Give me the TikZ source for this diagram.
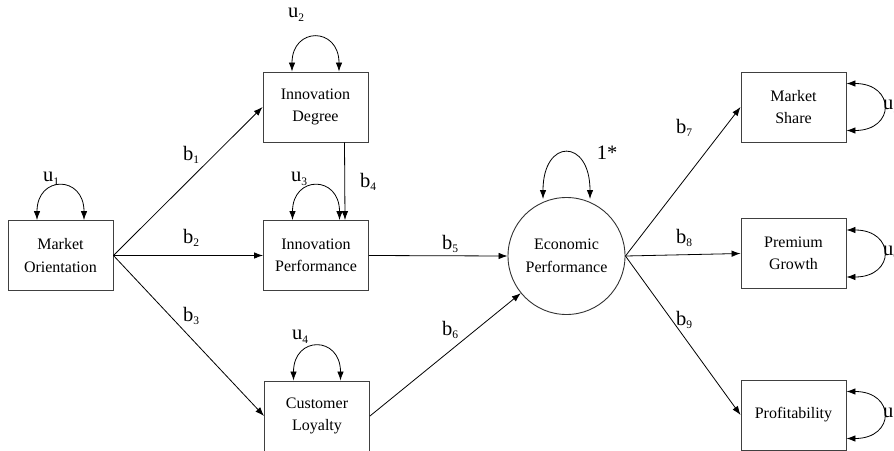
\documentclass[tikz,border=0pt]{standalone}
\usepackage{fontspec}
\setmainfont{Liberation Serif}
\usetikzlibrary{calc,arrows.meta}
\newcommand\lbl[2]{#1\raisebox{-0.4ex}{\fontsize{11.5}{11.5}\selectfont #2}}
\begin{document}
\begin{tikzpicture}[x=1pt,y=-1pt,
  box/.style={draw=black!75,line width=0.9pt,minimum width=105pt,minimum height=70pt,inner sep=0pt,align=center,font=\fontsize{16}{22.5}\selectfont},
  circ/.style={draw=black!80,line width=0.9pt,circle,minimum size=117pt,inner sep=0pt,align=center,font=\fontsize{16}{22.5}\selectfont},
  conn/.style={line width=0.8pt,-{Latex[length=9pt,width=6.5pt]}},
  loopc/.style={line width=0.8pt,{Latex[length=9pt,width=6.5pt]}-{Latex[length=9pt,width=6.5pt]}},
  lab/.style={font=\fontsize{20.5}{20.5}\selectfont,inner sep=0pt}]
\useasboundingbox (0,0) rectangle (894,450);
\clip (0,0) rectangle (894,450);
% nodes
\node[box] (mo) at (60.5,255.5) {Market\\Orientation};
\node[box] (id) at (315.5,107) {Innovation\\Degree};
\node[box] (ip) at (316,255.5) {Innovation\\Performance};
\node[box] (cl) at (317,416) {Customer\\Loyalty};
\node[circ] (ep) at (566.5,256) {Economic\\Performance};
\node[box] (ms) at (793.5,107) {Market\\Share};
\node[box] (pg) at (793.5,253.5) {Premium\\Growth};
\node[box] (pr) at (793.5,415) {Profitability};
% paths
\draw[conn] (mo.east) -- (id.west);
\draw[conn] (mo.east) -- (ip.west);
\draw[conn] (mo.east) -- (cl.west);
\coordinate (b4s) at ($(id.south)+(29,0)$);
\coordinate (b4e) at ($(ip.north)+(29,0)$);
\draw[conn] (b4s) -- (b4e);
\draw[conn] (ip.east) -- (ep.west);
\draw[conn] (cl.east) -- (ep);
\draw[conn] (ep.east) -- (ms.west);
\draw[conn] (ep.east) -- (pg.west);
\draw[conn] (ep.east) -- (pr.west);
% loops on top
\foreach \n in {mo,id,ip,cl}{
  \draw[loopc] ($(\n.north)+(-23.5,0)$) .. controls +(0,-45) and +(0,-45) .. ($(\n.north)+(23.5,0)$);
}
\coordinate (epl) at ($(ep.center)+(-23.5,-57)$);
\coordinate (epr) at ($(ep.center)+(23.5,-57)$);
\draw[loopc] (epl) .. controls +(0,-61) and +(0,-61) .. (epr);
\foreach \n in {ms,pg,pr}{
  \draw[loopc] ($(\n.east)+(0,-23.5)$) .. controls +(49,0) and +(49,0) .. ($(\n.east)+(0,23.5)$);
}
% labels
\node[lab] (u1) at (51,179) {\lbl{u}{1}};
\node[lab] (u2) at (296,15) {\lbl{u}{2}};
\node[lab] (u3) at (299,179) {\lbl{u}{3}};
\node[lab] (u4) at (300,337) {\lbl{u}{4}};
\node[lab] (one) at (607,153) {1*};
\node[lab,anchor=west] (u5) at (883,107) {\lbl{u}{5}};
\node[lab,anchor=west] (u6) at (883,253) {\lbl{u}{6}};
\node[lab,anchor=west] (u7) at (883,415) {\lbl{u}{7}};
\node[lab] (b1) at (191,155) {\lbl{b}{1}};
\node[lab] (b2) at (191,238) {\lbl{b}{2}};
\node[lab] (b3) at (191,316) {\lbl{b}{3}};
\node[lab] (b4) at (368,182) {\lbl{b}{4}};
\node[lab] (b5) at (450,244) {\lbl{b}{5}};
\node[lab] (b6) at (450,330) {\lbl{b}{6}};
\node[lab] (b7) at (684,128) {\lbl{b}{7}};
\node[lab] (b8) at (684,238) {\lbl{b}{8}};
\node[lab] (b9) at (684,320) {\lbl{b}{9}};
\end{tikzpicture}
\end{document}
